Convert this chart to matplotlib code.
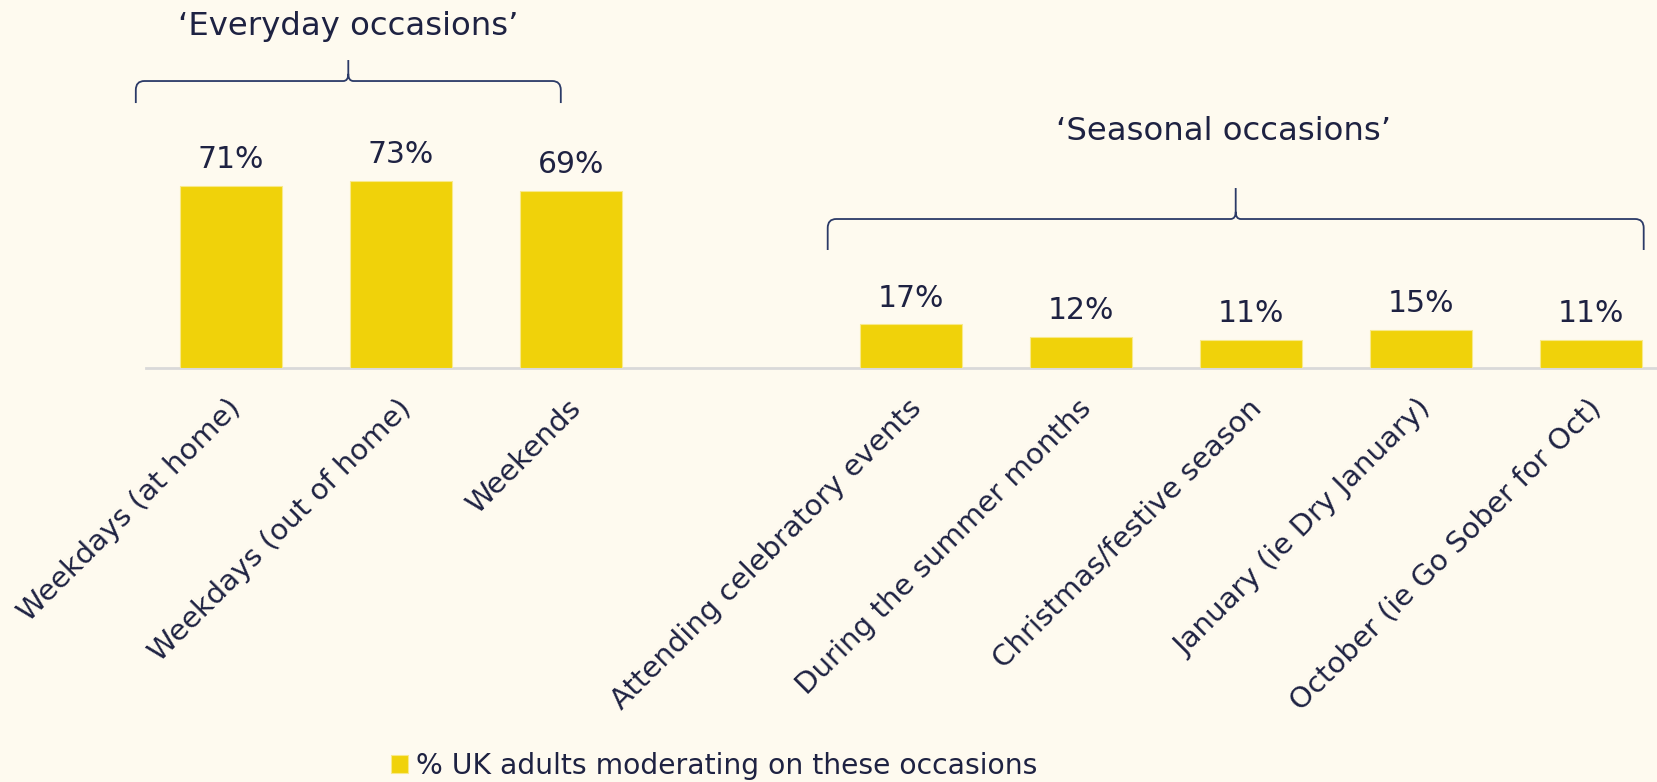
import matplotlib
matplotlib.use("Agg")
import matplotlib.pyplot as plt
import matplotlib.transforms as mtransforms
from matplotlib.path import Path
from matplotlib.patches import PathPatch
import numpy as np

# data
everyday_labels = ["Weekdays (at home)", "Weekdays (out of home)", "Weekends"]
everyday_values = [71, 73, 69]
seasonal_labels = ["Attending celebratory events", "During the summer months",
                   "Christmas/festive season", "January (ie Dry January)",
                   "October (ie Go Sober for Oct)"]
seasonal_values = [17, 12, 11, 15, 11]
series_name = "% UK adults moderating on these occasions"
group_titles = ["\u2018Everyday occasions\u2019", "\u2018Seasonal occasions\u2019"]

BG = "#FEFAEF"
BAR = "#F0D20A"
TEXT = "#1E2242"
BRACE = "#2B3A67"

W, H = 1657, 782
fig = plt.figure(figsize=(W / 100, H / 100), dpi=100, facecolor=BG)
# axes: baseline at y=368px, one slot = 170px, extends past right edge
ax = fig.add_axes([146 / W, 1 - 368 / H, 1530 / W, 368 / H])
ax.set_facecolor(BG)
ax.patch.set_alpha(0)

# empty slot between the two groups
x_every = np.arange(len(everyday_values))
x_season = np.arange(len(seasonal_values)) + len(everyday_values) + 1
xs = np.concatenate([x_every, x_season])
vals = everyday_values + seasonal_values
labels = everyday_labels + seasonal_labels

bars = ax.bar(xs, vals, width=0.6, color=BAR, edgecolor="#F8E98A",
              linewidth=0.8, label=series_name, zorder=2)
ax.set_xlim(-0.5, 8.5)
ax.set_ylim(0, 143.75)

for x, v in zip(xs, vals):
    ax.annotate(f"{v}%", (x, v), xytext=(0, 19), textcoords="offset points",
                ha="center", va="center", fontsize=21.5, color=TEXT)

ax.set_xticks(xs)
ax.set_xticklabels(labels, rotation=45, ha="right", rotation_mode="anchor",
                   va="center", fontsize=21, color=TEXT)
ax.tick_params(axis="x", length=0, pad=26)
shift = mtransforms.ScaledTranslation(6 / 100, 0, fig.dpi_scale_trans)
for lbl in ax.get_xticklabels():
    lbl.set_transform(lbl.get_transform() + shift)
ax.set_yticks([])
for s in ["top", "left", "right"]:
    ax.spines[s].set_visible(False)
ax.spines["bottom"].set_color("#D9D9D9")
ax.spines["bottom"].set_linewidth(2)
ax.spines["bottom"].set_zorder(1)


def brace(xl, xr, xc, yb, yh, yt, rx=0.05, ry=3.5):
    verts = [(xl, yb), (xl, yh - ry), (xl, yh), (xl + rx, yh),
             (xc - rx * 0.6, yh), (xc, yh), (xc, yh + ry * 0.8), (xc, yt),
             (xc, yh + ry * 0.8), (xc, yh), (xc + rx * 0.6, yh),
             (xr - rx, yh), (xr, yh), (xr, yh - ry), (xr, yb)]
    codes = [Path.MOVETO, Path.LINETO, Path.CURVE3, Path.CURVE3,
             Path.LINETO, Path.CURVE3, Path.CURVE3, Path.LINETO,
             Path.MOVETO, Path.CURVE3, Path.CURVE3,
             Path.LINETO, Path.CURVE3, Path.CURVE3, Path.LINETO]
    ax.add_patch(PathPatch(Path(verts, codes), fill=False, edgecolor=BRACE,
                           linewidth=1.3, clip_on=False))


brace(-0.56, 1.94, 0.69, 103.5, 112.1, 120.3)
brace(3.51, 8.31, 5.91, 46.1, 58.2, 70.3)

ax.text(0.69, 133.5, group_titles[0], ha="center", va="center",
        fontsize=23.3, color=TEXT, clip_on=False)
ax.text(5.84, 92.2, group_titles[1], ha="center", va="center",
        fontsize=23.3, color=TEXT, clip_on=False)

fig.legend(handles=[bars], labels=[series_name], loc="center left",
           bbox_to_anchor=(391 / W, 1 - 766 / H), frameon=False,
           fontsize=20.3, labelcolor=TEXT, handlelength=0.6,
           handleheight=0.6, handletextpad=0.3, borderpad=0,
           borderaxespad=0)

fig.savefig("out.png", dpi=100, facecolor=BG)
